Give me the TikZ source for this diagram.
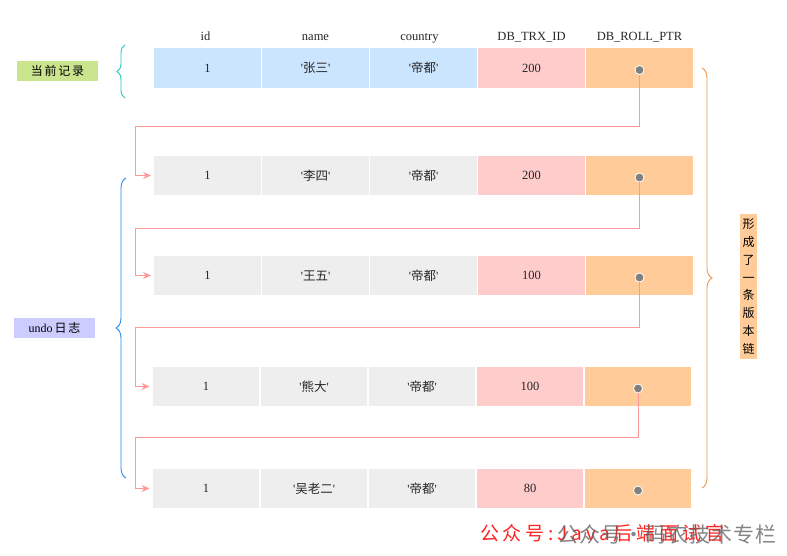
\documentclass[tikz,border=0pt]{standalone}
\usepackage{fontspec}
\setmainfont{Liberation Serif}
\newfontfamily\cjk{Noto Sans CJK SC}
\newfontfamily\cjkwide[LetterSpace=14]{Noto Sans CJK SC}
\newfontfamily\markfont[LetterSpace=20]{Noto Sans CJK SC}
\newfontfamily\markfontgray[LetterSpace=5]{Noto Sans CJK SC}
\usepackage{tikz}
\usetikzlibrary{positioning, arrows.meta, decorations.pathreplacing}
\definecolor{rowCurrent}{HTML}{CCE5FF}
\definecolor{rowUndo}{HTML}{EEEEEE}
\definecolor{trxPink}{HTML}{FFCCCC}
\definecolor{ptrOrange}{HTML}{FFCC99}
\definecolor{ptrDot}{HTML}{808080}
\definecolor{linkPink}{HTML}{FF9999}
\definecolor{tagGreen}{HTML}{CBE58E}
\definecolor{tagLilac}{HTML}{CCCCFF}
\definecolor{braceCyan}{HTML}{22C3C0}
\definecolor{braceBlue}{HTML}{1E88F0}
\definecolor{braceOrange}{HTML}{E6964F}
\definecolor{markRed}{HTML}{FF2222}
\newcommand{\valor}[1]{\textquotesingle{\cjk #1}\textquotesingle}

\begin{document}
\begin{tikzpicture}[
  x=1pt, y=-1pt,
  font=\fontsize{12.5}{15}\selectfont,
  cell/.style={minimum width=106.5pt, minimum height=39.5pt, inner sep=0pt, text=black!85},
  head/.style={inner sep=0pt, text height=9pt, text depth=3pt, text=black!85},
  ptrdot/.style={circle, fill=ptrDot, draw=white, line width=0.8pt, minimum size=9pt, inner sep=0pt},
  link/.style={-{Stealth[length=8pt, width=7pt]}, draw=linkPink, line width=1pt, shorten >=3pt},
  bracket/.style={decorate, decoration={brace, amplitude=#1}, line width=0.9pt},
  tag/.style={minimum width=81pt, minimum height=20pt, inner sep=0pt, font=\fontsize{12}{14}\selectfont}
]
  \useasboundingbox (0,0) rectangle (787,555);

  % --- Registro actual ---
  \node[cell, fill=rowCurrent] (r1c1) at (207.5, 68) {1};
  \node[cell, fill=rowCurrent] (r1c2) at (315.5, 68) {\valor{张三}};
  \node[cell, fill=rowCurrent] (r1c3) at (423.5, 68) {\valor{帝都}};
  \node[cell, fill=trxPink]    (r1c4) at (531.5, 68) {200};
  \node[cell, fill=ptrOrange]  (r1c5) at (639.5, 68) {};

  % --- Cabeceras ---
  \node[head, above=4pt of r1c1, xshift=-2pt] (h1) {id};
  \node[head, above=4pt of r1c2] (h2) {name};
  \node[head, above=4pt of r1c3, xshift=-4pt] (h3) {country};
  \node[head, above=4pt of r1c4] (h4) {DB\_TRX\_ID};
  \node[head, above=4pt of r1c5] (h5) {DB\_ROLL\_PTR};

  % --- Registros undo ---
  \node[cell, fill=rowUndo]   (r2c1) at (207.5, 175.5) {1};
  \node[cell, fill=rowUndo]   (r2c2) at (315.5, 175.5) {\valor{李四}};
  \node[cell, fill=rowUndo]   (r2c3) at (423.5, 175.5) {\valor{帝都}};
  \node[cell, fill=trxPink]   (r2c4) at (531.5, 175.5) {200};
  \node[cell, fill=ptrOrange] (r2c5) at (639.5, 175.5) {};

  \node[cell, fill=rowUndo]   (r3c1) at (207.5, 275.5) {1};
  \node[cell, fill=rowUndo]   (r3c2) at (315.5, 275.5) {\valor{王五}};
  \node[cell, fill=rowUndo]   (r3c3) at (423.5, 275.5) {\valor{帝都}};
  \node[cell, fill=trxPink]   (r3c4) at (531.5, 275.5) {100};
  \node[cell, fill=ptrOrange] (r3c5) at (639.5, 275.5) {};

  \node[cell, fill=rowUndo]   (r4c1) at (206, 386.5) {1};
  \node[cell, fill=rowUndo]   (r4c2) at (314, 386.5) {\valor{熊大}};
  \node[cell, fill=rowUndo]   (r4c3) at (422, 386.5) {\valor{帝都}};
  \node[cell, fill=trxPink]   (r4c4) at (530, 386.5) {100};
  \node[cell, fill=ptrOrange] (r4c5) at (638, 386.5) {};

  \node[cell, fill=rowUndo]   (r5c1) at (206, 488.5) {1};
  \node[cell, fill=rowUndo]   (r5c2) at (314, 488.5) {\valor{吴老二}};
  \node[cell, fill=rowUndo]   (r5c3) at (422, 488.5) {\valor{帝都}};
  \node[cell, fill=trxPink]   (r5c4) at (530, 488.5) {80};
  \node[cell, fill=ptrOrange] (r5c5) at (638, 488.5) {};

  % --- Punteros DB_ROLL_PTR ---
  \node[ptrdot] (p1) at ([yshift=-2pt]r1c5.center) {};
  \node[ptrdot] (p2) at ([yshift=-2pt]r2c5.center) {};
  \node[ptrdot] (p3) at ([yshift=-2pt]r3c5.center) {};
  \node[ptrdot] (p4) at ([yshift=-2pt]r4c5.center) {};
  \node[ptrdot] (p5) at ([yshift=-2pt]r5c5.center) {};

  % --- Cadena de versiones ---
  \coordinate (k1) at (135, 126);
  \coordinate (k2) at (135, 228);
  \coordinate (k3) at (135, 327);
  \coordinate (k4) at (135, 437);
  \draw[link] (p1) |- (k1) |- (r2c1.west);
  \draw[link] (p2) |- (k2) |- (r3c1.west);
  \draw[link] (p3) |- (k3) |- (r4c1.west);
  \draw[link] (p4) |- (k4) |- (r5c1.west);

  % --- Llaves y etiquetas ---
  \draw[bracket=8pt, braceCyan]    (125, 98) -- (125, 45);
  \draw[bracket=10pt, braceBlue]   (126, 478) -- (126, 178);
  \draw[bracket=10pt, braceOrange] (702, 68) -- (702, 488);

  \node[tag, fill=tagGreen] (current) at (57.5, 71) {{\cjkwide 当前记录}};
  \node[tag, fill=tagLilac] (undolog) at (54.5, 328) {undo\,{\cjkwide 日志}};
  \node[fill=ptrOrange, minimum width=17pt, inner xsep=2.5pt, inner ysep=4pt, align=center,
        font=\cjk\fontsize{12}{17.9}\selectfont] (chain) at (748.5, 286.5)
    {形\\成\\了\\一\\条\\版\\本\\链};

  % --- Marca de agua ---
  \node[anchor=west, inner sep=0pt, text=markRed, font=\markfont\fontsize{19}{22}\selectfont] (mark1)
    at (480, 533) {公众号:Java后端面试官};
  \node[anchor=west, inner sep=0pt, text=black!60, opacity=0.8, font=\markfontgray\fontsize{21}{23}\selectfont] (mark2)
    at (557, 534) {公众号·码农技术专栏};

\end{tikzpicture}
\end{document}
